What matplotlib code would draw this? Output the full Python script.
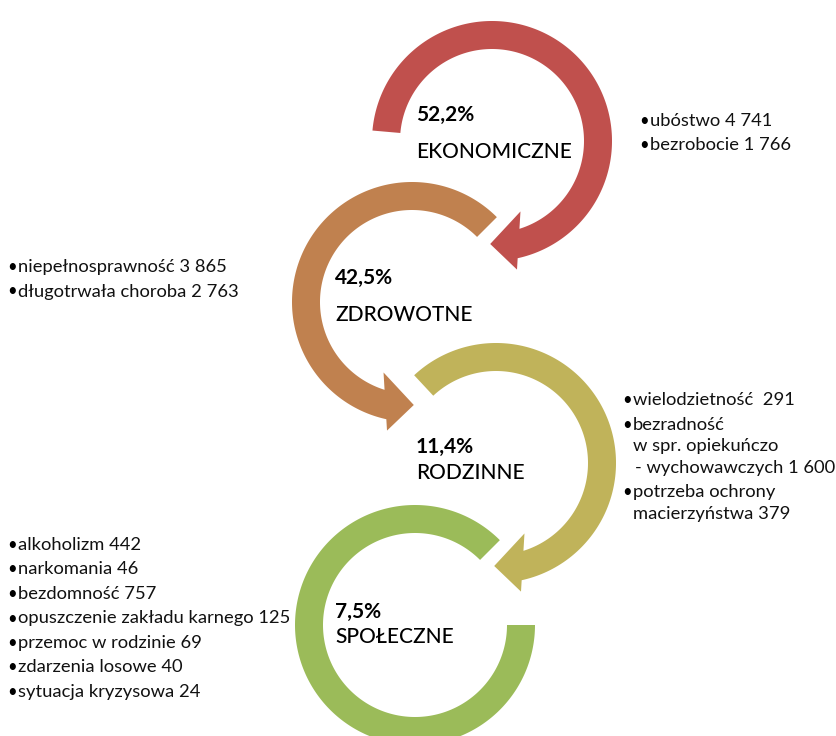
#!/usr/bin/env python3
# Diagram: reasons for social assistance, four circular arrows with bullet lists
import numpy as np
import matplotlib
matplotlib.use('Agg')
import matplotlib.pyplot as plt
from matplotlib.patches import Polygon

#--------------------------------------------------
# data
categories  = ['EKONOMICZNE', 'ZDROWOTNE', 'RODZINNE', 'SPOŁECZNE']
shares      = [52.2, 42.5, 11.4, 7.5]  # percent
ekonomiczne = [('ubóstwo', 4741), ('bezrobocie', 1766)]
zdrowotne   = [('niepełnosprawność', 3865), ('długotrwała choroba', 2763)]
rodzinne    = [('wielodzietność ', 291),
               ('bezradność\nw spr. opiekuńczo\n- wychowawczych', 1600),
               ('potrzeba ochrony\nmacierzyństwa', 379)]
spoleczne   = [('alkoholizm', 442), ('narkomania', 46), ('bezdomność', 757),
               ('opuszczenie zakładu karnego', 125), ('przemoc w rodzinie', 69),
               ('zdarzenia losowe', 40), ('sytuacja kryzysowa', 24)]
itemLists = [ekonomiczne, zdrowotne, rodzinne, spoleczne]

#--------------------------------------------------
# layout (pixel units, y pointing down)
centres = [(492, 141), (412, 302), (496, 463), (415, 625)]
tails   = [175, 45, 133, 45]     # angle of arrow tail, degrees
turn    = [-1, +1, -1, +1]       # -1 clockwise, +1 counter clockwise (on screen)
heads   = [True, True, True, False]
colours = ['#C0504D', '#C0814F', '#C0B35A', '#9BBB59']
textX   = [416, 335, 416, 335]
pctY    = [115, 278, 447, 612]
nameY   = [152, 315, 473, 637]
listXY  = [(641, 121), (9, 267), (624, 400), (9, 545)]
rIn, rOut = 92, 120

fam = ['Lato', 'DejaVu Sans']

def pt(c, r, a):
    a = np.radians(a)
    return (c[0] + r*np.cos(a), c[1] - r*np.sin(a))

def angle(c, p):
    return np.degrees(np.arctan2(-(p[1]-c[1]), p[0]-c[0]))

def ringArrow(ax, c, tail, s, colour, head=True, end=360):
    if head:
        ang = lambda phi: -90 + s*phi
        Pi = np.array(pt(c, 76, ang(-22)))   # inner back corner
        Po = np.array(pt(c, 131, ang(-11)))  # outer back corner
        Pt = np.array(pt(c, 103, ang(1)))    # tip
        t = np.linspace(0, 1, 2001)[:, None]
        seg = Pi + t*(Po-Pi)
        rr = np.hypot(seg[:, 0]-c[0], seg[:, 1]-c[1])
        Qi = seg[np.argmin(np.abs(rr-rIn))]
        Qo = seg[np.argmin(np.abs(rr-rOut))]
        swO = ((angle(c, Qo) - tail)*s) % 360
        swI = ((angle(c, Qi) - tail)*s) % 360
        outer = [pt(c, rOut, tail + s*a) for a in np.linspace(0, swO, 300)]
        inner = [pt(c, rIn, tail + s*a) for a in np.linspace(0, swI, 300)][::-1]
        verts = outer + [tuple(Po), tuple(Pt), tuple(Pi)] + inner
    else:
        sw = ((end - tail)*s) % 360
        outer = [pt(c, rOut, tail + s*a) for a in np.linspace(0, sw, 300)]
        inner = [pt(c, rIn, tail + s*a) for a in np.linspace(0, sw, 300)][::-1]
        verts = outer + inner
    ax.add_patch(Polygon(verts, closed=True, fc=colour, ec='none'))

fig = plt.figure(figsize=(8.36, 7.36), dpi=100)
ax = fig.add_axes([0, 0, 1, 1])
ax.set_xlim(0, 836)
ax.set_ylim(736, 0)
ax.axis('off')

for i in range(4):
    ringArrow(ax, centres[i], tails[i], turn[i], colours[i], head=heads[i])
    pct = '{:.1f}%'.format(shares[i]).replace('.', ',')
    ax.text(textX[i], pctY[i], pct, fontsize=15, fontweight='bold', family=fam,
            ha='left', va='center', color='black')
    ax.text(textX[i], nameY[i], categories[i], fontsize=15, fontweight='medium', family=fam,
            ha='left', va='center', color='black')
    # bullet list
    bx, y = listXY[i]
    for label, n in itemLists[i]:
        lines = (label + ' ' + '{:,}'.format(n).replace(',', ' ')).split('\n')
        ax.text(bx + 3, y, '•', fontsize=12, family=fam, ha='center', va='center', color='black')
        for j, line in enumerate(lines):
            if j > 0:
                y += 21.7
            # continuation line starting with a dash sits a little to the right
            dx = 2 if line.startswith('-') else 0
            ax.text(bx + 9 + dx, y, line, fontsize=13.2, family=fam, ha='left', va='center', color='#111111')
        y += 24.5

fig.savefig('out.png', dpi=100)
